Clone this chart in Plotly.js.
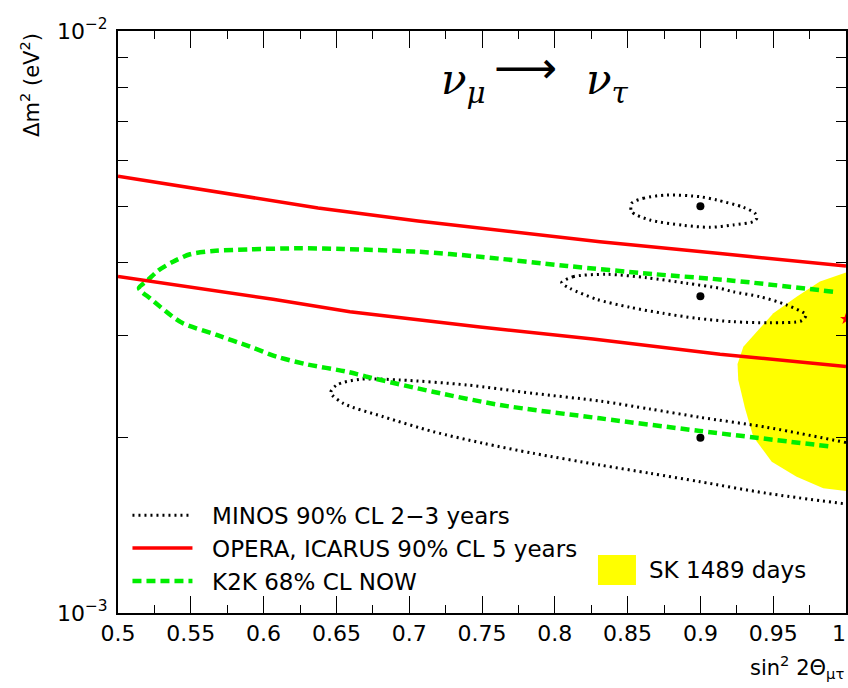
<!DOCTYPE html>
<html>
<head>
<meta charset="utf-8">
<script src="https://cdn.plot.ly/plotly-3.0.1.min.js"></script>
<style>html,body{margin:0;padding:0;background:#fff}#chart{width:848px;height:688px}</style>
</head>
<body>
<div id="chart"></div>
<script>
// ---- data (sin^2 2theta, delta m^2 in eV^2) ----
const skX = [1.0,0.9821,0.9661,0.9501,0.9387,0.9295,0.9255,0.9260,0.9306,0.9363,0.9490,0.9661,0.9844,1.0];
const skY = [0.003846,0.003712,0.003495,0.003273,0.003043,0.002868,0.002678,0.002514,0.002250,0.002009,0.001820,0.001715,0.001638,0.001620];

const minosTopX = [0.8528,0.8608,0.8769,0.8997,0.9112,0.9295,0.9375,0.9387,0.9363,0.9226,0.9066,0.8883,0.8654,0.8528,0.8528];
const minosTopY = [0.005058,0.005159,0.005227,0.005191,0.005124,0.004978,0.004861,0.004766,0.004703,0.004642,0.004600,0.004636,0.004734,0.004892,0.005058];

const minosMidX = [0.8047,0.8125,0.8356,0.8631,0.8906,0.9135,0.9224,0.9409,0.9593,0.9725,0.9696,0.9478,0.9224,0.8975,0.8743,0.8516,0.8288,0.8104,0.8047];
const minosMidY = [0.003694,0.003783,0.003819,0.003768,0.003686,0.003613,0.003565,0.003495,0.003382,0.003251,0.003179,0.003153,0.003166,0.003209,0.003273,0.003352,0.003459,0.003613,0.003694];

const minosLowX = [1.0,0.9455,0.8997,0.8654,0.8310,0.7850,0.7395,0.6937,0.6662,0.6502,0.6461,0.6547,0.6822,0.7166,0.7509,0.7852,0.8310,0.8654,0.8997,0.9455,1.0];
const minosLowY = [0.001963,0.002085,0.002169,0.002241,0.002313,0.002385,0.002465,0.002514,0.002521,0.002465,0.002391,0.002292,0.002174,0.002049,0.001957,0.001881,0.001796,0.001738,0.001681,0.001606,0.001539];

const k2kX = [0.9911,0.9224,0.8674,0.8084,0.7486,0.7060,0.6545,0.6250,0.5907,0.5652,0.5495,0.5378,0.5275,0.5206,0.5144,0.5163,0.5220,0.5369,0.5446,0.5678,0.5907,0.6090,0.6296,0.6571,0.6708,0.7163,0.7624,0.8310,0.8997,0.9902];
const k2kY = [0.003565,0.003724,0.003823,0.003947,0.004094,0.004176,0.004221,0.004233,0.004216,0.004188,0.004134,0.004014,0.003874,0.003734,0.003618,0.003565,0.003473,0.003238,0.003146,0.003004,0.002868,0.002757,0.002675,0.002598,0.002547,0.002400,0.002277,0.002160,0.002055,0.001931];

const operaUpX = [0.5,0.5687,0.6374,0.7060,0.8310,0.9135,1.0];
const operaUpY = [0.00563,0.00528,0.004965,0.004716,0.004345,0.004145,0.003947];
const operaLowX = [0.5,0.6065,0.6593,0.7486,0.8262,0.9135,1.0];
const operaLowY = [0.003786,0.003459,0.003294,0.003100,0.002957,0.002783,0.002652];

const bestX = [0.9,0.9,0.9];
const bestY = [0.005,0.0035,0.002];
const skBestX = [1.0];
const skBestY = [0.0032];

const xTickVals = [0.5,0.55,0.6,0.65,0.7,0.75,0.8,0.85,0.9,0.95,1.0];
const xTickText = ['0.5','0.55','0.6','0.65','0.7','0.75','0.8','0.85','0.9','0.95',''];
const xLastTickText = '1';
const yTickVals = [0.001,0.002,0.003,0.004,0.005,0.006,0.007,0.008,0.009,0.01];
const yTickText = ['10<sup>\u22123</sup>','','','','','','','','','10<sup>\u22122</sup>'];

const legMinos = 'MINOS 90% CL 2\u22123 years';
const legOpera = 'OPERA, ICARUS 90% CL 5 years';
const legK2K = 'K2K 68% CL NOW';
const legSK = 'SK 1489 days';

// ---- styles ----
const pad = '\u00a0\u00a0';
const minosLine = {color:'black', width:3, dash:'2px,4px', shape:'spline', smoothing:0.8};
const operaLine = {color:'#ff0000', width:3.5};
const k2kLine = {color:'#00ee00', width:4.5, dash:'9px,5px', shape:'spline', smoothing:0.8};

const traces = [
  {x:skX, y:skY, mode:'lines', fill:'toself', fillcolor:'#ffff00', line:{width:0, color:'#ffff00'}, name:legSK, showlegend:false, hoverinfo:'skip'},
  {x:minosTopX, y:minosTopY, mode:'lines', line:minosLine, name:pad+legMinos, legendgroup:'m', showlegend:true, legendrank:1},
  {x:minosMidX, y:minosMidY, mode:'lines', line:minosLine, name:legMinos, legendgroup:'m', showlegend:false},
  {x:minosLowX, y:minosLowY, mode:'lines', line:minosLine, name:legMinos, legendgroup:'m', showlegend:false},
  {x:k2kX, y:k2kY, mode:'lines', line:k2kLine, name:pad+legK2K, legendgroup:'k', showlegend:true, legendrank:3},
  {x:operaUpX, y:operaUpY, mode:'lines', line:operaLine, name:pad+legOpera, legendgroup:'o', showlegend:true, legendrank:2},
  {x:operaLowX, y:operaLowY, mode:'lines', line:operaLine, name:legOpera, legendgroup:'o', showlegend:false},
  {x:bestX, y:bestY, mode:'markers', marker:{color:'black', size:8}, showlegend:false},
  {x:skBestX, y:skBestY, mode:'markers', marker:{color:'#ff0000', size:9, symbol:'star'}, showlegend:false}
];

const F = 'DejaVu Sans, sans-serif';
const layout = {
  width:848, height:688,
  margin:{l:118, r:2, t:31, b:75},
  paper_bgcolor:'white', plot_bgcolor:'white',
  font:{family:F, size:22, color:'black'},
  xaxis:{
    range:[0.5,1.0], tickmode:'array', tickvals:xTickVals, ticktext:xTickText,
    ticks:'inside', ticklen:17, tickwidth:1, tickcolor:'black',
    minor:{dtick:0.025, tick0:0.5, ticks:'inside', ticklen:8, tickwidth:1, tickcolor:'black'},
    showline:true, linewidth:2, linecolor:'black', mirror:'ticks',
    showgrid:false, zeroline:false,
    tickfont:{family:F, size:22, color:'black'}
  },
  yaxis:{
    type:'log', range:[-3,-2],
    tickmode:'array', tickvals:yTickVals, ticktext:yTickText,
    ticks:'inside', ticklen:10, tickwidth:1, tickcolor:'black',
    showline:true, linewidth:2, linecolor:'black', mirror:'ticks',
    showgrid:false, zeroline:false, ticklabelstandoff:4,
    tickfont:{family:F, size:22, color:'black'}
  },
  legend:{
    x:0.013, y:0.205, xanchor:'left', yanchor:'top',
    bgcolor:'rgba(0,0,0,0)', borderwidth:0, itemwidth:60,
    traceorder:'normal', font:{family:F, size:23, color:'black'}
  },
  shapes:[
    {type:'rect', xref:'paper', yref:'paper', x0:0.6593, x1:0.7115, y0:0.0481, y1:0.0997,
     fillcolor:'#ffff00', line:{width:0}}
  ],
  annotations:[
    {xref:'paper', yref:'paper', x:1.003, y:-0.036, xanchor:'right', yanchor:'middle', showarrow:false,
     text:xLastTickText, font:{family:F, size:22, color:'black'}},
    {xref:'paper', yref:'paper', x:0.7266, y:0.0739, xanchor:'left', yanchor:'middle', showarrow:false,
     text:legSK, font:{family:F, size:23, color:'black'}},
    {xref:'paper', yref:'paper', x:1.0, y:-0.093, xanchor:'right', yanchor:'middle', showarrow:false,
     text:'sin<sup>2</sup> 2\u0398<sub>\u03bc\u03c4</sub>', font:{family:F, size:21, color:'black'}},
    {xref:'paper', yref:'paper', x:-0.121, y:1.0, xanchor:'center', yanchor:'top', showarrow:false, textangle:-90,
     text:'\u0394m<sup>2</sup> (eV<sup>2</sup>)', font:{family:F, size:21, color:'black'}},
    {xref:'paper', yref:'paper', x:0.475, y:0.962, showarrow:false,
     text:'<i>\u03bd</i><sub><i>\u03bc</i></sub>', font:{family:'DejaVu Serif, serif', size:42, color:'black'}},
    {xref:'paper', yref:'paper', x:0.560, y:0.985, showarrow:false,
     text:'\u27f6', font:{family:'DejaVu Sans, sans-serif', size:44, color:'black'}},
    {xref:'paper', yref:'paper', x:0.704, y:0.962, showarrow:false,
     text:'<i>\u03bd</i><sub><i>\u03c4</i></sub>', font:{family:'DejaVu Serif, serif', size:42, color:'black'}}
  ],
  showlegend:true
};

Plotly.newPlot('chart', traces, layout, {staticPlot:true, displayModeBar:false});
</script>
</body>
</html>
